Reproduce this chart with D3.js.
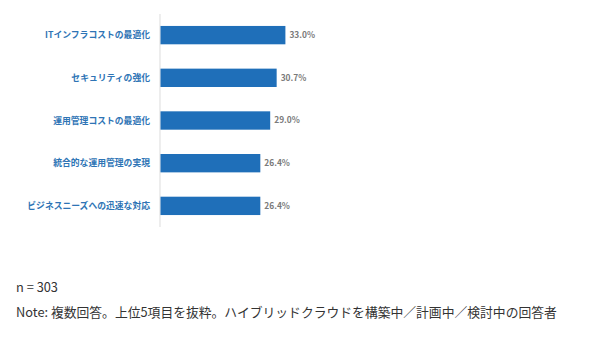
<!DOCTYPE html>
<html>
<head>
<meta charset="utf-8">
<script src="https://cdn.jsdelivr.net/npm/d3@7"></script>
<style>
  body { margin: 0; background: #fff; }
  svg { display: block; }
</style>
</head>
<body>
<svg id="chart" width="590" height="337"></svg>
<script>
const categories = [
  "ITインフラコストの最適化",
  "セキュリティの強化",
  "運用管理コストの最適化",
  "統合的な運用管理の実現",
  "ビジネスニーズへの迅速な対応"
];
const values = [33.0, 30.7, 29.0, 26.4, 26.4];
const sampleNote = "n = 303";
const footNote = "Note: 複数回答。上位5項目を抜粋。ハイブリッドクラウドを構築中／計画中／検討中の回答者";

const svg = d3.select("#chart");
const jpFont = "'Noto Sans CJK JP', 'Noto Sans', sans-serif";

// 0% sits on the axis line, 33% ends around x=285
const x = d3.scaleLinear().domain([0, 40]).range([160, 312]);
const y = d3.scaleBand().domain(categories).range([14, 227]).paddingInner(0.57).paddingOuter(0.28);

// vertical axis line
svg.append("line")
  .attr("x1", 160).attr("x2", 160)
  .attr("y1", 14).attr("y2", 227)
  .attr("stroke", "#e2e2e2")
  .attr("stroke-width", 1.2);

svg.selectAll("rect.bar")
  .data(values)
  .join("rect")
  .attr("class", "bar")
  .attr("x", x(0) + 0.5)
  .attr("y", (d, i) => y(categories[i]))
  .attr("width", d => x(d) - x(0) - 0.5)
  .attr("height", y.bandwidth())
  .attr("fill", "#1f6fb9");

svg.selectAll("text.val")
  .data(values)
  .join("text")
  .attr("class", "val")
  .attr("x", d => x(d) + 4)
  .attr("y", (d, i) => y(categories[i]) + y.bandwidth() / 2)
  .attr("dy", "0.35em")
  .attr("font-family", jpFont)
  .attr("font-size", 8.4)
  .attr("font-weight", "bold")
  .attr("fill", "#7a7a7a")
  .text(d => d.toFixed(1) + "%");

svg.selectAll("text.cat")
  .data(categories)
  .join("text")
  .attr("class", "cat")
  .attr("x", 150)
  .attr("y", d => y(d) + y.bandwidth() / 2)
  .attr("dy", "0.35em")
  .attr("text-anchor", "end")
  .attr("font-family", jpFont)
  .attr("font-size", 8.8)
  .attr("font-weight", "bold")
  .attr("fill", "#2e74b5")
  .text(d => d);

svg.append("text")
  .attr("x", 16).attr("y", 291.5)
  .attr("font-family", jpFont)
  .attr("font-size", 12.8)
  .attr("fill", "#333")
  .text(sampleNote);

svg.append("text")
  .attr("x", 16).attr("y", 317)
  .attr("font-family", jpFont)
  .attr("font-size", 12.8)
  .attr("fill", "#333")
  .text(footNote);
</script>
</body>
</html>
